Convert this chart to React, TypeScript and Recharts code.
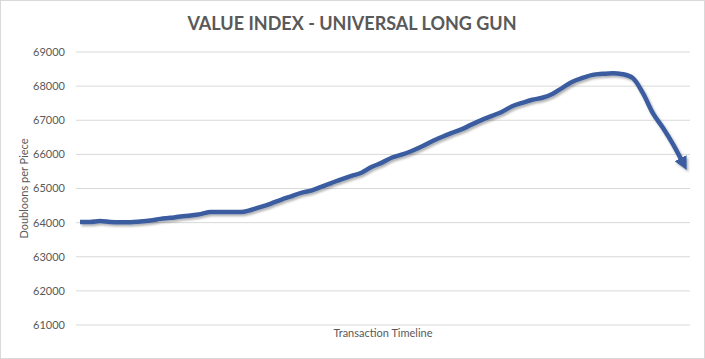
import { CartesianGrid, Line, LineChart, XAxis, YAxis } from "recharts";

// values, one per transaction step
const prices = [
    64020, 64020, 64050, 64020, 64010, 64010, 64030, 64060, 64110, 64140,
    64180, 64210, 64250, 64310, 64310, 64310, 64310, 64370, 64460, 64560,
    64670, 64770, 64870, 64940, 65050, 65160, 65270, 65370, 65460, 65630,
    65750, 65900, 65990, 66100, 66230, 66380, 66510, 66630, 66740, 66880,
    67010, 67130, 67250, 67410, 67510, 67600, 67660, 67770, 67950, 68130,
    68240, 68330, 68360, 68380, 68350, 68240, 67800, 67210, 66780, 66300,
    65750,
];
const transactions = prices.map((_, i) => `T${i + 1}`);
const yTicks = [61000, 62000, 63000, 64000, 65000, 66000, 67000, 68000, 69000];

const data = transactions.map((t, i) => ({ t, price: prices[i] }));

const font = "Lato, 'Open Sans', sans-serif";
const grey = "#595959";

export default function App() {
    return (
        <div style={{ position: "absolute", left: 0, top: 0, width: 705, height: 359, background: "#fff" }}>
            <LineChart width={705} height={359} data={data} margin={{ top: 52, right: 15, bottom: 14, left: 0 }}>
                <defs>
                    <marker id="arrowHead" viewBox="0 0 10 10" refX="4" refY="5" markerWidth="3" markerHeight="3" orient="auto">
                        <path d="M0,0 L10,5 L0,10 z" fill="#3a5da0" />
                    </marker>
                    <filter id="lineShadow" x="-5%" y="-5%" width="110%" height="120%">
                        <feDropShadow dx="1.5" dy="2" stdDeviation="1.2" floodColor="#000" floodOpacity="0.3" />
                    </filter>
                </defs>
                <text x={352} y={30} textAnchor="middle" fontFamily={font} fontWeight="bold" fontSize={18} fill={grey}>
                    VALUE INDEX - UNIVERSAL LONG GUN
                </text>
                <CartesianGrid vertical={false} stroke="#d9d9d9" />
                <XAxis
                    dataKey="t"
                    tick={false}
                    axisLine={false}
                    tickLine={false}
                    height={20}
                    padding={{ left: 4, right: 7 }}
                    label={{ value: "Transaction Timeline", position: "insideTop", offset: 4, fill: grey, fontSize: 11, fontFamily: font }}
                />
                <YAxis
                    domain={[61000, 69000]}
                    ticks={yTicks}
                    width={76}
                    axisLine={false}
                    tickLine={false}
                    tickMargin={5}
                    tick={{ fill: grey, fontSize: 11, fontFamily: font }}
                    label={{ value: "Doubloons per Piece", angle: -90, position: "insideLeft", offset: 24, fill: grey, fontSize: 11, fontFamily: font, style: { textAnchor: "middle" } }}
                />
                <Line
                    type="monotone"
                    dataKey="price"
                    stroke="#3a5da0"
                    strokeWidth={4.5}
                    dot={false}
                    markerEnd="url(#arrowHead)"
                    filter="url(#lineShadow)"
                    isAnimationActive={false}
                />
            </LineChart>
            <div style={{ position: "absolute", inset: 0, border: "1px solid #d9d9d9", pointerEvents: "none" }} />
        </div>
    );
}
